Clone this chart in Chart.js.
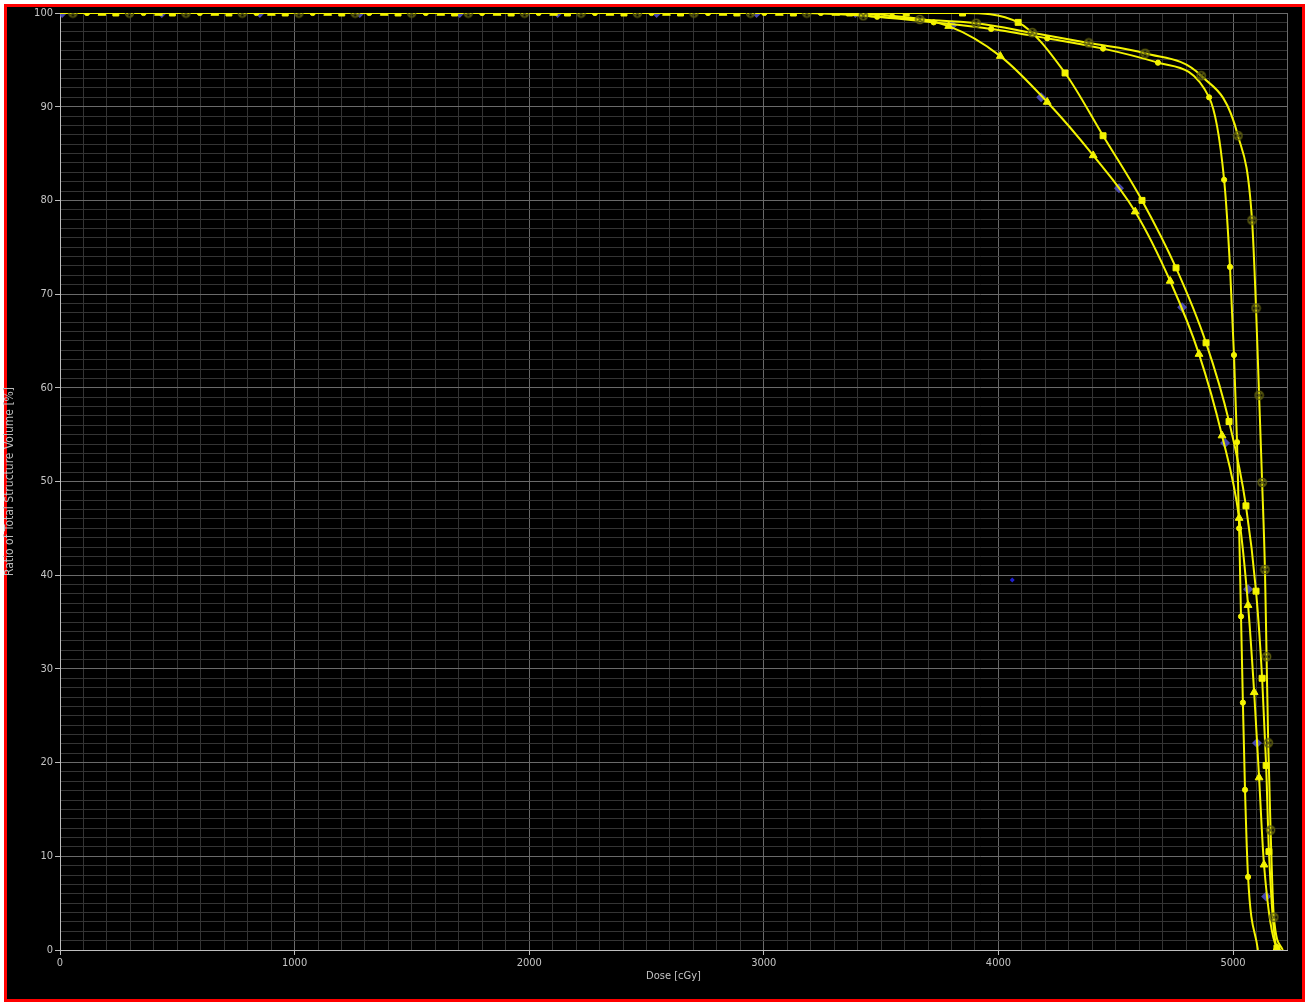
<!DOCTYPE html>
<html>
<head>
<meta charset="utf-8">
<title>Dose Volume Histogram</title>
<script src="https://cdn.jsdelivr.net/npm/chart.js@4.4.1/dist/chart.umd.min.js"></script>
<style>
  html, body { margin: 0; padding: 0; background: #fff; }
  #frame {
    position: absolute; left: 4px; top: 4px;
    width: 1295px; height: 992px;
    border: 3px solid #ff0000; background: #000;
  }
  #wrap { position: absolute; left: 0; top: 0; width: 1309px; height: 1003px; }
</style>
</head>
<body>
<div id="frame"></div>
<div id="wrap"><canvas id="dvh" width="1309" height="1003"></canvas></div>
<script>
// ---------------- DATA ----------------
// dose in cGy, volume in % of structure
const doseSquare = [0, 238, 479, 720, 960, 1201, 1441, 1682, 1923, 2163, 2404, 2645, 2885, 3126, 3366, 3607, 3847,
  4084, 4284, 4446, 4612, 4757, 4885, 4983, 5055, 5098, 5124, 5141, 5153, 5187, 5200];
const volSquare = [100, 100, 100, 100, 100, 100, 100, 100, 100, 100, 100, 100, 100, 100, 100, 100, 100,
  99.0, 93.6, 86.9, 80.0, 72.8, 64.8, 56.4, 47.4, 38.3, 29.0, 19.7, 10.5, 0.2, 0];

const doseTriangle = [0, 179, 420, 660, 901, 1141, 1382, 1623, 1863, 2104, 2344, 2585, 2826, 3066, 3307, 3547, 3788,
  4008, 4208, 4404, 4583, 4732, 4855, 4953, 5026, 5064, 5090, 5111, 5132, 5187, 5200];
const volTriangle = [100, 100, 100, 100, 100, 100, 100, 100, 100, 100, 100, 100, 100, 100, 100, 99.7, 98.6,
  95.4, 90.5, 84.8, 78.8, 71.4, 63.6, 54.9, 46.1, 36.8, 27.5, 18.4, 9.1, 0.2, 0];

const doseDot = [0, 115, 356, 596, 837, 1077, 1318, 1559, 1799, 2040, 2280, 2521, 2762, 3002, 3243,
  3483, 3724, 3969, 4208, 4446, 4680, 4898, 4962, 4987, 5004, 5017, 5026, 5034, 5042, 5051, 5064, 5106];
const volDot = [100, 100, 100, 100, 100, 100, 100, 100, 100, 100, 100, 100, 100, 100, 100,
  99.6, 99.0, 98.3, 97.3, 96.2, 94.7, 91.0, 82.2, 72.9, 63.5, 54.2, 45.0, 35.6, 26.4, 17.1, 7.8, 0];

const doseRing = [0, 55, 296, 537, 777, 1018, 1258, 1499, 1740, 1980, 2221, 2461, 2702, 2943, 3183,
  3424, 3665, 3905, 4144, 4385, 4625, 4864, 5021, 5081, 5098, 5111, 5124, 5136, 5143, 5150, 5160, 5174, 5212];
const volRing = [100, 100, 100, 100, 100, 100, 100, 100, 100, 100, 100, 100, 100, 100, 100,
  99.7, 99.3, 98.9, 97.9, 96.8, 95.7, 93.3, 86.9, 77.9, 68.5, 59.2, 49.9, 40.6, 31.3, 22.1, 12.8, 3.5, 0];

const doseBlue = [9, 434, 852, 1278, 1704, 2121, 2543, 2969, 3390, 3803, 4182, 4514, 4783, 4966, 5064, 5102, 5141];
const volBlue = [100, 100, 100, 100, 100, 100, 100, 100, 100, 98.7, 91.0, 81.3, 68.6, 54.1, 38.5, 22.1, 5.7];

const doseStray = [4059];
const volStray = [39.5];

const doseMax = 5230;

// ---------------- HELPERS ----------------
const pts = (xs, ys) => xs.map((x, i) => ({ x: x, y: ys[i] }));
const YELLOW = '#f4f400';
const FONT = "'Liberation Sans Narrow', 'DejaVu Sans Condensed', 'DejaVu Sans', sans-serif";

// no marker on the start and end of a curve
const endsHidden = r => ctx => {
  const n = ctx.dataset.data.length;
  return (ctx.dataIndex === 0 || ctx.dataIndex === n - 1) ? 0 : r;
};

// circle with a cross in it
function crossedCircle() {
  const c = document.createElement('canvas');
  c.width = 11; c.height = 11;
  const g = c.getContext('2d');
  g.strokeStyle = '#5e5e10';
  g.lineWidth = 1.6;
  g.beginPath(); g.arc(5.5, 5.5, 4, 0, Math.PI * 2); g.stroke();
  g.beginPath();
  g.moveTo(2.8, 2.8); g.lineTo(8.2, 8.2);
  g.moveTo(8.2, 2.8); g.lineTo(2.8, 8.2);
  g.stroke();
  return c;
}

function curve(xs, ys, style, r) {
  return {
    data: pts(xs, ys),
    borderColor: YELLOW,
    borderWidth: 2,
    backgroundColor: YELLOW,
    pointStyle: style,
    pointRadius: endsHidden(r),
    pointBorderWidth: 1,
    pointBorderColor: YELLOW,
    pointBackgroundColor: YELLOW,
    cubicInterpolationMode: 'monotone',
    fill: false
  };
}

// ---------------- CHART ----------------
const ringSet = curve(doseRing, volRing, crossedCircle(), 4);
const dotSet = curve(doseDot, volDot, 'circle', 2.6);
const squareSet = curve(doseSquare, volSquare, 'rect', 4.2);
const triangleSet = curve(doseTriangle, volTriangle, 'triangle', 4.5);

// blue markers sit under the yellow lines
const blueSet = {
  data: pts(doseBlue, volBlue),
  showLine: false,
  pointStyle: 'rectRot',
  pointRadius: 5,
  pointBorderWidth: 0,
  pointBackgroundColor: 'rgba(85,85,200,0.85)'
};
const straySet = {
  data: pts(doseStray, volStray),
  showLine: false,
  pointStyle: 'rectRot',
  pointRadius: 2.5,
  pointBorderWidth: 0,
  pointBackgroundColor: '#2020d0'
};

new Chart(document.getElementById('dvh'), {
  type: 'line',
  data: { datasets: [ringSet, dotSet, squareSet, triangleSet, straySet, blueSet] },
  options: {
    responsive: false,
    animation: false,
    events: [],
    layout: { padding: { top: 13, right: 22, left: 0, bottom: 0 } },
    plugins: { legend: { display: false }, tooltip: { enabled: false } },
    scales: {
      x: {
        type: 'linear',
        min: 0,
        max: doseMax,
        afterFit: s => { s.height = 53; },
        border: { display: true, color: '#bdbdbd', width: 1 },
        grid: {
          color: c => (c.tick.value % 1000 === 0 || c.tick.value === doseMax) ? '#6a6a6a' : '#343434',
          tickColor: c => c.tick.value % 1000 === 0 ? '#bdbdbd' : 'rgba(0,0,0,0)',
          tickLength: 5,
          lineWidth: 1
        },
        ticks: {
          stepSize: 100,
          autoSkip: false,
          maxRotation: 0,
          padding: 2,
          color: '#c4c4c4',
          font: { family: FONT, size: 11 },
          callback: v => v % 1000 === 0 ? String(v) : ''
        },
        title: {
          display: true,
          text: 'Dose [cGy]',
          color: '#c4c4c4',
          font: { family: FONT, size: 11 },
          padding: { top: 0, bottom: 20 }
        }
      },
      y: {
        min: 0,
        max: 100,
        afterFit: s => { s.width = 60; },
        border: { display: true, color: '#bdbdbd', width: 1 },
        grid: {
          color: c => c.tick.value % 10 === 0 ? '#6a6a6a' : '#343434',
          tickColor: c => c.tick.value % 10 === 0 ? '#bdbdbd' : 'rgba(0,0,0,0)',
          tickLength: 5,
          lineWidth: 1
        },
        ticks: {
          stepSize: 1,
          autoSkip: false,
          padding: 2,
          color: '#c4c4c4',
          font: { family: FONT, size: 11 },
          callback: v => v % 10 === 0 ? String(v) : ''
        },
        title: {
          display: true,
          text: 'Ratio of Total Structure Volume [%]',
          color: '#bcbcbc',
          font: { family: FONT, size: 12 },
          padding: { top: 3, bottom: 0 }
        }
      }
    }
  }
});
</script>
</body>
</html>
